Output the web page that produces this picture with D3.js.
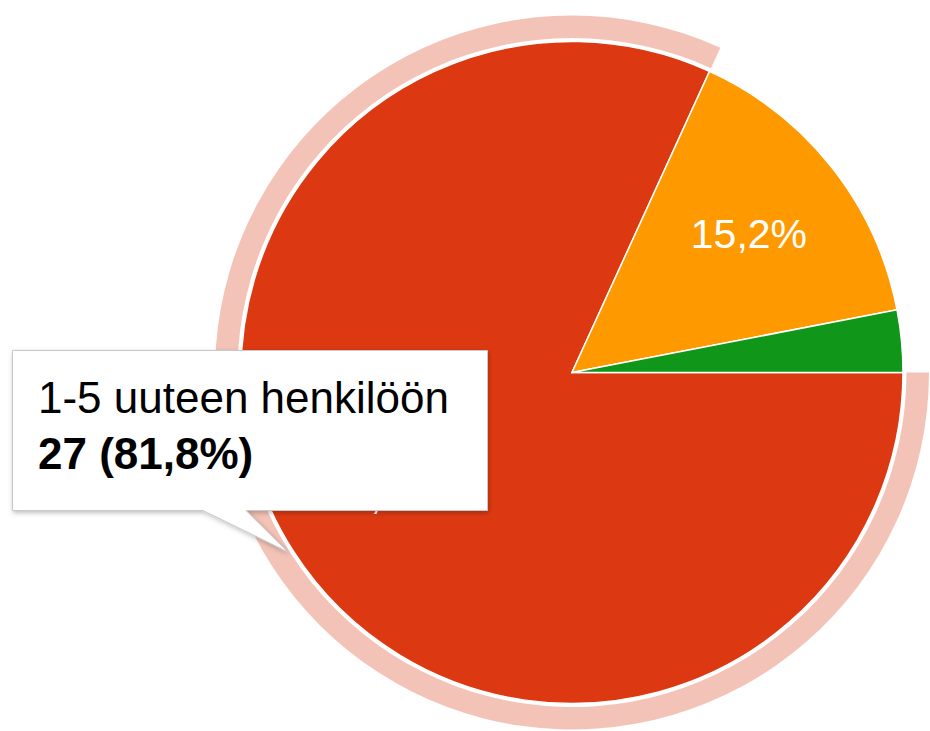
<!DOCTYPE html>
<html>
<head>
<meta charset="utf-8">
<script src="https://cdn.jsdelivr.net/npm/d3@7"></script>
<style>
  html, body { margin: 0; padding: 0; background: #fff; }
  svg { display: block; font-family: "Liberation Sans", Arial, sans-serif; }
</style>
</head>
<body>
<div id="chart"></div>
<script>
const categories = ["1-5 uuteen henkilöön", "6-10 uuteen henkilöön", "Yli 10 uuteen henkilöön"];
const counts = [27, 5, 1];
const colors = ["#dc3912", "#ff9900", "#109618"];
const highlighted = 0;

const width = 930, height = 731;
const cx = 572, cy = 372.5, radius = 331;

const fi = d3.formatLocale({ decimal: ",", thousands: " ", grouping: [3], currency: ["", "€"] });
const pct = fi.format(".1%");
const total = d3.sum(counts);

const data = categories.map((c, i) => ({ name: c, value: counts[i], color: colors[i] }));

const pie = d3.pie()
    .value(d => d.value)
    .sort(null)
    .startAngle(Math.PI / 2)
    .endAngle(Math.PI / 2 + 2 * Math.PI);

const arcs = pie(data);

const svg = d3.select("#chart")
    .append("svg")
    .attr("width", width)
    .attr("height", height);

const defs = svg.append("defs");
const shadow = defs.append("filter").attr("id", "shadow")
    .attr("x", "-10%").attr("y", "-10%").attr("width", "120%").attr("height", "130%");
shadow.append("feDropShadow")
    .attr("dx", 1).attr("dy", 2).attr("stdDeviation", 2.5)
    .attr("flood-color", "#000").attr("flood-opacity", 0.25);

const g = svg.append("g").attr("transform", `translate(${cx},${cy})`);

const arc = d3.arc().innerRadius(0).outerRadius(radius);
const ring = d3.arc().innerRadius(radius + 3.5).outerRadius(radius + 26);

// halo on the hovered slice
g.append("path")
    .datum(arcs[highlighted])
    .attr("d", ring)
    .attr("fill", colors[highlighted])
    .attr("fill-opacity", 0.3);

g.selectAll("path.slice")
    .data(arcs)
    .join("path")
    .attr("class", "slice")
    .attr("d", arc)
    .attr("fill", d => d.data.color)
    .attr("stroke", "#fff")
    .attr("stroke-width", 1.5);

const labelArc = d3.arc().innerRadius(radius * 0.68).outerRadius(radius * 0.68);

g.selectAll("text.lbl")
    .data(arcs.filter(d => d.value / total > 0.05))
    .join("text")
    .attr("class", "lbl")
    .attr("transform", d => `translate(${labelArc.centroid(d)})`)
    .attr("text-anchor", "middle")
    .attr("dy", "0.36em")
    .attr("fill", "#fff")
    .style("font-size", "41px")
    .text(d => pct(d.value / total));

// tooltip
const tip = svg.append("g");
tip.append("path")
    .attr("d", "M12.5,350.5 H487.5 V510.5 H246 L288,552 L203,510.5 H12.5 Z")
    .attr("fill", "#fff")
    .attr("stroke", "#c8c8c8")
    .attr("stroke-width", 1)
    .attr("filter", "url(#shadow)");

tip.append("text")
    .attr("x", 38)
    .attr("y", 413)
    .attr("fill", "#000")
    .style("font-size", "44px")
    .text(categories[highlighted]);

tip.append("text")
    .attr("x", 38)
    .attr("y", 469)
    .attr("fill", "#000")
    .style("font-size", "44px")
    .style("font-weight", "bold")
    .text(`${counts[highlighted]} (${pct(counts[highlighted] / total)})`);
</script>
</body>
</html>
